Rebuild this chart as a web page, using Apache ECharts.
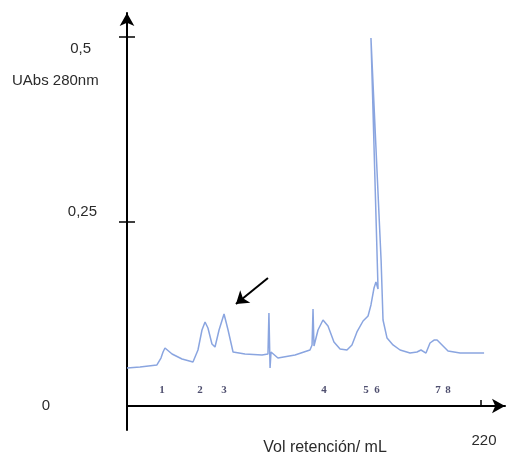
<!DOCTYPE html>
<html>
<head>
<meta charset="utf-8">
<script src="https://cdn.jsdelivr.net/npm/echarts@6/dist/echarts.min.js"></script>
<style>
html, body { margin: 0; padding: 0; background: #fff; }
#chart { width: 507px; height: 458px; }
</style>
</head>
<body>
<div id="chart"></div>
<script>
// retention volume (mL) and absorbance
var vol = [0, 8.1, 18.6, 21.1, 22.4, 23.6, 28.0, 34.2, 41.0, 44.1, 46.6,
    48.5, 50.3, 52.8, 54.7, 57.2, 60.3, 62.8, 65.9, 73.3, 83.9,
    87.6, 88.2, 88.9, 89.5, 93.8, 104.4, 113.7, 115.0, 115.6, 116.2,
    118.7, 121.8, 124.9, 128.6, 132.4, 136.7, 139.8, 142.9, 146.7, 149.8,
    151.6, 153.5, 154.7, 156.0, 151.6, 157.9, 159.1, 161.6, 165.3, 169.7,
    175.9, 180.2, 182.7, 185.8, 188.3, 190.8, 192.7, 193.9, 196.4, 199.5,
    207.0, 221.9];
var absorb = [0.0515, 0.0528, 0.0556, 0.0650, 0.0732, 0.0786, 0.0705, 0.0637, 0.0596, 0.0759, 0.1030,
    0.1138, 0.1057, 0.0840, 0.0799, 0.1030, 0.1247, 0.1030, 0.0732, 0.0705, 0.0691,
    0.0705, 0.1260, 0.0515, 0.0732, 0.0650, 0.0691, 0.0759, 0.0827, 0.1314, 0.0813,
    0.1030, 0.1165, 0.1084, 0.0867, 0.0772, 0.0759, 0.0827, 0.1003, 0.1152, 0.1220,
    0.1369, 0.1599, 0.1680, 0.1585, 0.4986, 0.1978, 0.1165, 0.0921, 0.0827, 0.0759,
    0.0718, 0.0732, 0.0759, 0.0718, 0.0854, 0.0894, 0.0894, 0.0908, 0.0813, 0.0745,
    0.0718, 0.0718];

// fraction numbers under the peaks
var peakNames = ["1", "2", "3", "4", "5", "6", "7", "8"];
var peakVol = [21.8, 45.4, 60.3, 122.4, 148.5, 155.4, 193.3, 199.5];
var peakLabelY = 0.0217;

var yLabels = [0, 0.25, 0.5];
var yTicks = [0.25, 0.5];
var xTicks = [220];

// annotation arrow: from, to
var arrowFrom = [87.6, 0.1734];
var arrowTo = [67.7, 0.1382];

var trace = vol.map(function (v, i) { return [v, absorb[i]]; });
var peaks = peakVol.map(function (v, i) { return {name: peakNames[i], value: [v, peakLabelY]}; });

var chart = echarts.init(document.getElementById("chart"));
var option = {
    animation: false,
    textStyle: {fontFamily: "Liberation Sans, Arial, sans-serif"},
    grid: {left: 127, right: 2, top: 13, bottom: 28, outerBoundsMode: "none"},
    graphic: [{
        type: "text",
        left: 12,
        top: 73,
        style: {text: "UAbs 280nm", font: "15px Liberation Sans, Arial, sans-serif", fill: "#2b2b2b"}
    }],
    xAxis: {
        type: "value",
        min: 0,
        max: 234.9,
        name: "Vol retención/ mL",
        nameLocation: "middle",
        nameGap: 10,
        nameMoveOverlap: false,
        nameTextStyle: {fontSize: 16, color: "#2b2b2b", padding: [0, 0, 0, 18]},
        axisLine: {
            onZero: true,
            lineStyle: {color: "#000", width: 2},
            symbol: ["none", "arrow"],
            symbolSize: [11, 13]
        },
        axisTick: {show: true, inside: true, length: 6, customValues: xTicks, lineStyle: {color: "#000", width: 1.5}},
        axisLabel: {show: true, customValues: xTicks, margin: 3, fontSize: 15, color: "#2b2b2b", padding: [0, 0, 0, 6]},
        splitLine: {show: false}
    },
    yAxis: [{
        type: "value",
        min: -0.0325,
        max: 0.5325,
        axisLine: {
            onZero: true,
            lineStyle: {color: "#000", width: 2},
            symbol: ["none", "arrow"],
            symbolSize: [11, 13]
        },
        axisTick: {show: true, length: 8, customValues: yTicks, lineStyle: {color: "#000", width: 1.5}},
        axisLabel: {
            customValues: yLabels,
            margin: 30,
            fontSize: 15,
            color: "#2b2b2b",
            formatter: function (v) {
                if (v === 0) return "{z|0}";
                if (v === 0.25) return "{q|0,25}";
                return "{h|0,5}";
            },
            rich: {
                z: {fontSize: 15, color: "#2b2b2b", padding: [0, 47, 0, 0]},
                q: {fontSize: 15, color: "#2b2b2b", padding: [0, 0, 20, 0]},
                h: {fontSize: 15, color: "#2b2b2b", padding: [24, 6, 0, 0]}
            }
        },
        splitLine: {show: false}
    }, {
        type: "value",
        min: -0.0325,
        max: 0.5325,
        position: "left",
        offset: 0,
        axisLine: {show: false},
        axisTick: {show: true, inside: true, length: 8, customValues: yTicks, lineStyle: {color: "#000", width: 1.5}},
        axisLabel: {show: false},
        splitLine: {show: false}
    }],
    series: [
        {
            type: "line",
            data: trace,
            showSymbol: false,
            symbol: "none",
            lineStyle: {color: "#8aa5e0", width: 1.5},
            markLine: {
                silent: true,
                symbol: ["none", "arrow"],
                symbolSize: 12,
                label: {show: false},
                lineStyle: {color: "#000", width: 2, type: "solid"},
                data: [[{coord: arrowFrom}, {coord: arrowTo}]]
            }
        },
        {
            type: "scatter",
            data: peaks,
            symbolSize: 1,
            itemStyle: {color: "transparent"},
            label: {
                show: true,
                position: "inside",
                formatter: "{b}",
                fontFamily: "Liberation Serif, DejaVu Serif, serif",
                fontWeight: "bold",
                fontSize: 11,
                color: "#22224a"
            }
        }
    ]
};
chart.setOption(option);
</script>
</body>
</html>
